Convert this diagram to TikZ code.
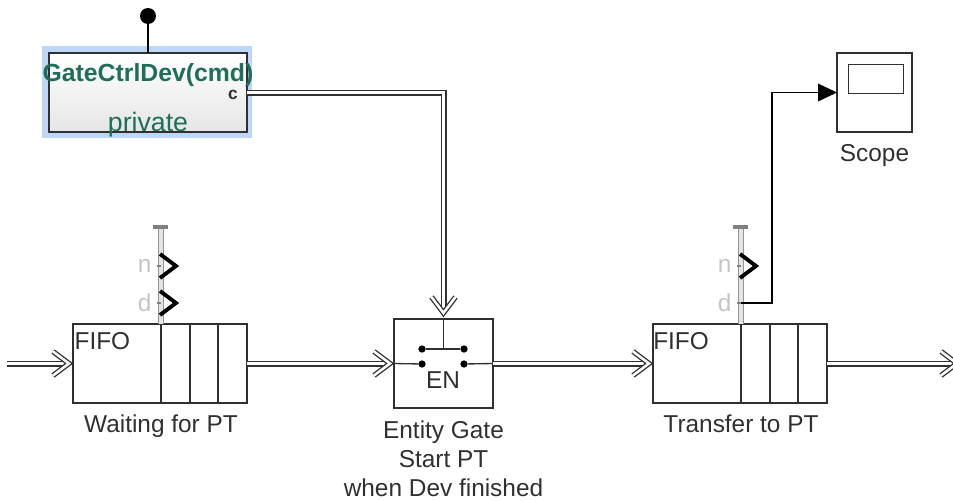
\documentclass[tikz,border=0pt]{standalone}
\usepackage{fontspec}
\setmainfont{Liberation Sans}
\usepackage{tikz}
\usetikzlibrary{positioning}
\usetikzlibrary{shadows}
\definecolor{ctrlgreen}{HTML}{1F6E5A}
\definecolor{halo}{HTML}{BCD7F7}
\definecolor{ink}{HTML}{303030}
\definecolor{portgray}{HTML}{C4C4C4}

\tikzset{chev/.pic={\draw[line width=2.9pt, black, miter limit=10] (-1,-12) -- (15,0) -- (-1,12);},
         tick/.pic={\draw[line width=1pt, gray] (-4,0) -- (0,0);},
         dblchev/.pic={\draw[draw=ink, line width=1pt, double=white, double distance=1.9pt, miter limit=10] (-20,-12) -- (-4,0) -- (-20,12);}}

\begin{document}
\begin{tikzpicture}[x=.75pt, y=-.75pt, font=\fontsize{18.3}{21.75}\selectfont,
                    box/.style={rectangle, draw=ink, line width=1.3pt, fill=white, inner sep=0pt, outer sep=0pt,
                                drop shadow={shadow xshift=1pt, shadow yshift=-1pt, fill=gray!60, opacity=.45}},
                    fifo/.style={box, minimum height=59.25pt, minimum width=66pt},
                    slot/.style={box, minimum height=59.25pt, minimum width=21.5pt},
                    lbl/.style={text=ink, inner sep=0pt, align=center},
                    port/.style={text=portgray, inner sep=0pt},
                    dot/.style={circle, fill=black, inner sep=0pt, minimum size=5.5pt},
                    dbl/.style={draw=ink, line width=1pt, double=white, double distance=2.5pt},
                    plain/.style={draw=ink, line width=1pt},
                    sig/.style={draw=black, line width=.85pt},
                    stem/.style={draw=gray!85, line width=.8pt, double=gray!20, double distance=2.4pt}]
\useasboundingbox (0,0) rectangle (953,500);
% control block
\node (halo) [rectangle, fill=halo, minimum width=157.5pt, minimum height=69pt] at (147,92) {};
\node (ctrl) [rectangle, draw=ink, line width=1.4pt, top color=white, bottom color=gray!20, minimum width=148.5pt, minimum height=59.25pt, outer sep=0pt] at (148,92.5) {};
\node (ctrlname) [text=ctrlgreen, inner sep=0pt, font=\fontsize{18.6}{21}\selectfont\bfseries] at (148,75) {GateCtrlDev(cmd)};
\node (ctrltype) [text=ctrlgreen, inner sep=0pt, font=\fontsize{20}{24}\selectfont] at (148,125) {private};
\node (ctrlport) [text=ink, inner sep=0pt, font=\fontsize{13}{16}\selectfont\bfseries] at (233,95) {c};
\node (pin) [circle, fill=black, inner sep=0pt, minimum size=12pt] at (148,16) {};
\draw[draw=black, line width=1pt] (pin) -- (ctrl.north);
% first queue
\node (wait) [fifo, anchor=north west] at (73,324) {};
\node (wait1) [slot, right=0mm of wait] {};
\node (wait2) [slot, right=0mm of wait1] {};
\node (wait3) [slot, right=0mm of wait2] {};
\node (waitfifo) [lbl, below right=6.5pt and 1pt of wait.north west, anchor=north west] {FIFO};
\node (waitname) [lbl, below=9pt of wait.south east, anchor=north] {Waiting for PT};
% gate
\node (gate) [box, minimum width=74.25pt, minimum height=66.75pt, anchor=north west] at (394,319) {};
\node (gatea) [dot] at (422,349) {};
\node (gateb) [dot] at (464,349) {};
\node (gatec) [dot] at (422,364) {};
\node (gated) [dot] at (464,364) {};
\node (gateen) [lbl] at (443,380) {EN};
\coordinate (gatemid) at (443.5,349);
\coordinate (gatetop) at (443.5,317);
\draw[plain] (gatea) -- (gateb);
\draw[plain] (gate.north) -- (gatemid);
\draw[plain] (gate.west) -- (gatec);
\draw[plain] (gated) -- (gate.east);
\node (gatename) [lbl, below=9.5pt of gate.south] {Entity Gate\\Start PT\\when Dev finished};
% second queue
\node (trans) [fifo, anchor=north west] at (653,324) {};
\node (trans1) [slot, right=0mm of trans] {};
\node (trans2) [slot, right=0mm of trans1] {};
\node (trans3) [slot, right=0mm of trans2] {};
\node (transfifo) [lbl, below right=6.5pt and 0pt of trans.north west, anchor=north west] {FIFO};
\node (transname) [lbl, below=9pt of trans.south east, anchor=north] {Transfer to PT};
% scope
\node (scope) [box, minimum width=56.25pt, minimum height=59.25pt, anchor=north west] at (837,53) {};
\node (screen) [rectangle, draw=ink, line width=.9pt, minimum width=41.25pt, minimum height=21.75pt, inner sep=0pt, anchor=north west] at (848,64) {};
\node (scopename) [lbl, below=9.5pt of scope.south] {Scope};
% ports
\coordinate (waittop) at (161,227);
\coordinate (waitn) at (161,266);
\coordinate (waitd) at (161,303);
\coordinate (transtop) at (741,227);
\coordinate (transn) at (741,266);
\coordinate (transd) at (741,303);
\draw[stem] (waittop) -- (wait.north east);
\draw[stem] (transtop) -- (trans.north east);
\draw[draw=gray, line width=2.6pt] (153,227) -- (168,227);
\draw[draw=gray, line width=2.6pt] (733,227) -- (748,227);
\node (waitnl) [port, left=7pt of waitn] {n};
\node (waitdl) [port, left=7pt of waitd] {d};
\node (transnl) [port, left=7pt of transn] {n};
\node (transdl) [port, left=7pt of transd] {d};
\pic at (waitn) {tick};
\pic at (waitd) {tick};
\pic at (transn) {tick};
\pic at (transd) {tick};
\pic at (waitn) {chev};
\pic at (waitd) {chev};
\pic at (transn) {chev};
% connectors
\coordinate (in) at (7,363.5);
\coordinate (out) at (961,363.5);
\coordinate (bend) at (772,200);
\draw[dbl, shorten >=7pt] (in) -- (wait.west);
\draw[dbl, shorten >=7pt] (wait3.east) -- (gate.west);
\draw[dbl, shorten >=7pt] (gate.east) -- (trans.west);
\draw[dbl, shorten >=7pt] (trans3.east) -- (out);
\draw[dbl, shorten >=7pt] (ctrl.east) -| (gatetop);
\pic at (wait.west) {dblchev};
\pic at (gate.west) {dblchev};
\pic at (trans.west) {dblchev};
\pic at (out) {dblchev};
\pic[rotate=-90] at (gatetop) {dblchev};
\draw[sig] (transd) -| (bend) |- (scope.west);
\fill[black] (scope.west) -- ++(-19,-9) -- ++(0,18) -- cycle;
\end{tikzpicture}
\end{document}
